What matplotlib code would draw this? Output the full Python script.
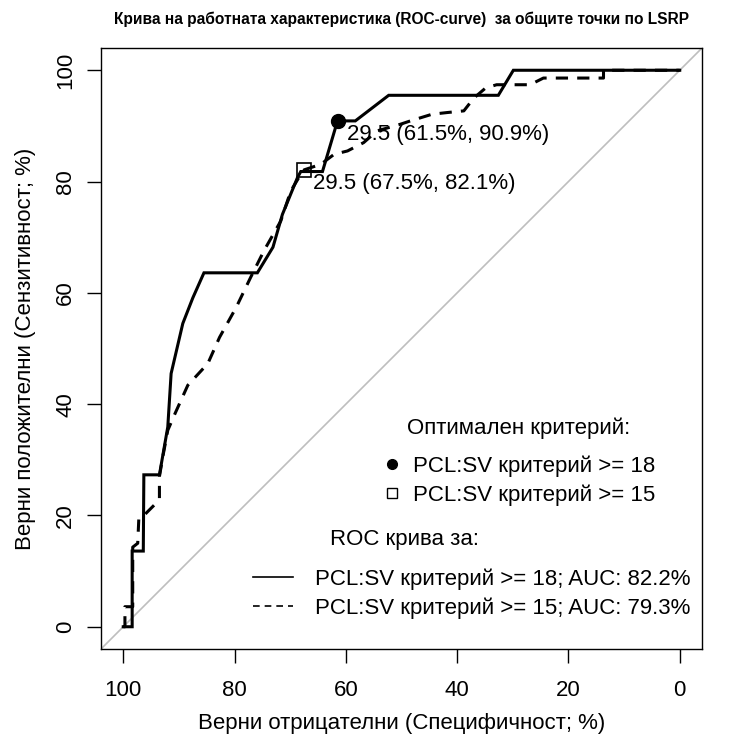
import matplotlib.pyplot as plt
from matplotlib.lines import Line2D

plt.rcParams['font.family'] = ['Liberation Sans', 'DejaVu Sans']

# ROC curve points (specificity %, sensitivity %)
spec_18 = [100, 98.4, 98.4, 96.4, 96.3, 93.5, 92.0, 91.4, 89.3, 87.5, 85.5, 75.9,
           73.1, 71.4, 68.7, 68.1, 64.2, 61.5, 58.3, 52.3, 32.6, 29.9, 0]
sens_18 = [0, 0, 13.6, 13.6, 27.3, 27.3, 35.9, 45.5, 54.5, 59.1, 63.6, 63.6,
           68.2, 74.1, 80.7, 81.8, 81.8, 90.9, 90.9, 95.5, 95.5, 100, 100]

spec_15 = [100, 99.7, 99.7, 98.3, 98.3, 97.4, 97.2, 96.3, 94.0, 93.5, 93.5, 92.9,
           92.0, 90.7, 88.4, 84.8, 82.7, 79.7, 77.1, 74.7, 71.7, 69.9, 68.1, 67.5,
           64.5, 62.1, 59.7, 56.8, 54.4, 50.2, 48.4, 44.5, 41.8, 38.8, 37.0, 34.9,
           32.9, 26.9, 24.5, 13.7, 13.7, 0]
sens_15 = [0, 0, 3.6, 3.6, 14.3, 15.0, 19.5, 20.0, 22.3, 23.0, 27.0, 30.5,
           35.3, 38.3, 43.4, 47.3, 52.0, 57.4, 62.8, 67.6, 72.9, 78.3, 81.3, 82.1,
           83.1, 84.9, 85.5, 87.0, 89.1, 90.3, 90.9, 92.1, 92.4, 92.7, 95.0, 96.8,
           97.4, 97.4, 98.6, 98.6, 100, 100]

# optimal thresholds
best_18 = (61.5, 90.9)
best_15 = (67.5, 82.1)
thr_18 = 29.5
thr_15 = 29.5

auc_18 = 82.2
auc_15 = 79.3

FS = 16

fig = plt.figure(figsize=(7.36, 7.43), dpi=100)
ax = fig.add_axes([101 / 736, 1 - 649 / 743, 601 / 736, 601 / 743])

ax.plot([104, -4], [-4, 104], color='#BEBEBE', lw=1.2, zorder=1)
ax.plot(spec_18, sens_18, color='black', lw=2.2, solid_joinstyle='miter', zorder=3)
ax.plot(spec_15, sens_15, color='black', lw=2.2, linestyle=(0, (4, 3)), zorder=3)

ax.plot(*best_18, marker='o', ms=10, color='black', zorder=4)
ax.plot(*best_15, marker='s', ms=10, mfc='none', mec='black', mew=1.2, zorder=4)

ax.annotate(f"{thr_18} ({best_18[0]}%, {best_18[1]}%)", xy=best_18, xytext=(6.5, -9.5),
            textcoords='offset points', ha='left', va='center', fontsize=FS)
ax.annotate(f"{thr_15} ({best_15[0]}%, {best_15[1]}%)", xy=best_15, xytext=(6.5, -10),
            textcoords='offset points', ha='left', va='center', fontsize=FS)

ax.set_xlim(104, -4)
ax.set_ylim(-4, 104)
ax.set_xticks([100, 80, 60, 40, 20, 0])
ax.set_yticks([0, 20, 40, 60, 80, 100])
ax.tick_params(direction='out', length=10, width=1, labelsize=FS)
ax.tick_params(axis='x', pad=12)
ax.tick_params(axis='y', pad=8)
for lab in ax.get_yticklabels():
    lab.set_rotation(90)
    lab.set_va('center')
for s in ax.spines.values():
    s.set_linewidth(1)

ax.set_xlabel("Верни отрицателни (Специфичност; %)", fontsize=FS, labelpad=9)
ax.set_ylabel("Верни положителни (Сензитивност; %)", fontsize=FS, labelpad=14)
ax.set_title("Крива на работната характеристика (ROC-curve)  за общите точки по LSRP",
             fontsize=11.2, fontweight='bold', pad=17)

# legend: optimal criteria
h1 = [Line2D([], [], marker='o', ls='none', color='black', ms=7),
      Line2D([], [], marker='s', ls='none', mfc='none', mec='black', ms=7)]
fig.legend(h1, ["PCL:SV критерий >= 18", "PCL:SV критерий >= 15"],
           loc='upper left', bbox_to_anchor=(383 / 736, 1 - 455 / 743),
           frameon=False, fontsize=FS, handlelength=0.8, handletextpad=0.55,
           labelspacing=0.35, borderpad=0, borderaxespad=0)
fig.text(519 / 736, 1 - 428 / 743, "Оптимален критерий:", ha='center', va='center', fontsize=FS)

h2 = [Line2D([], [], color='black', lw=1.2),
      Line2D([], [], color='black', lw=1.2, ls=(0, (4, 3)))]
fig.legend(h2, [f"PCL:SV критерий >= 18; AUC: {auc_18}%",
                f"PCL:SV критерий >= 15; AUC: {auc_15}%"],
           loc='upper left', bbox_to_anchor=(253 / 736, 1 - 568 / 743),
           frameon=False, fontsize=FS, handlelength=1.8, handletextpad=1.0,
           labelspacing=0.35, borderpad=0, borderaxespad=0)
fig.text(405 / 736, 1 - 540 / 743, "ROC крива за:", ha='center', va='center', fontsize=FS)

fig.savefig("out.png", dpi=100)
